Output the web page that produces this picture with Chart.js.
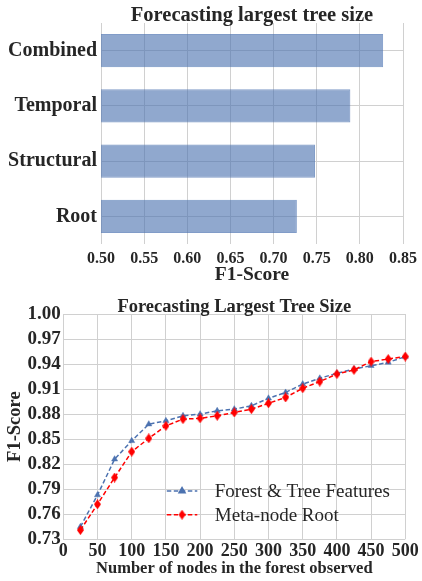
<!DOCTYPE html>
<html lang="en">
<head>
  <meta charset="UTF-8" />
  <title>Forecasting largest tree size</title>
  <script src="https://cdn.jsdelivr.net/npm/chart.js"></script>
  <style>
    html, body {
      margin: 0;
      padding: 0;
      background: #fff;
    }
    .box {
      position: relative;
      width: 422px;
    }
    #top { height: 290px; }
    #bottom { height: 291px; }
  </style>
</head>
<body>

  <!-- Bar chart: feature sets -->
  <div class="box" id="top"><canvas id="barChart"></canvas></div>

  <!-- Line chart: forest size -->
  <div class="box" id="bottom"><canvas id="lineChart"></canvas></div>

  <script>
    // Data for the bar chart
    const featureSets = ['Combined', 'Temporal', 'Structural', 'Root'];
    const featureScores = [0.827, 0.789, 0.748, 0.727];
    const barTicks = [0.50, 0.55, 0.60, 0.65, 0.70, 0.75, 0.80, 0.85];

    // Data for the line chart
    const nodesObserved = [25, 50, 75, 100, 125, 150, 175, 200, 225, 250,
                           275, 300, 325, 350, 375, 400, 425, 450, 475, 500];
    const forestTreeScores = [0.745, 0.783, 0.826, 0.848, 0.868, 0.872, 0.878, 0.880, 0.884, 0.886,
                              0.890, 0.899, 0.906, 0.916, 0.923, 0.929, 0.934, 0.938, 0.942, 0.949];
    const metaRootScores = [0.741, 0.772, 0.804, 0.835, 0.851, 0.866, 0.874, 0.875, 0.878, 0.882,
                            0.886, 0.893, 0.900, 0.911, 0.919, 0.928, 0.933, 0.943, 0.946, 0.949];
    const nodeTicks = [0, 50, 100, 150, 200, 250, 300, 350, 400, 450, 500];
    const scoreTicks = [0.73, 0.76, 0.79, 0.82, 0.85, 0.88, 0.91, 0.94, 0.97, 1.00];

    const TEXT = '#262626';
    const GRID = '#d0d0d0';
    const BLUE = '#4c72b0';
    const RED = '#ff0000';

    Chart.defaults.font.family = "'Liberation Serif', 'DejaVu Serif', serif";
    Chart.defaults.color = TEXT;

    // thin diamond marker (matplotlib 'd')
    const diamond = document.createElement('canvas');
    diamond.width = 7;
    diamond.height = 10;
    const dc = diamond.getContext('2d');
    dc.fillStyle = RED;
    dc.beginPath();
    dc.moveTo(3.5, 0);
    dc.lineTo(7, 5);
    dc.lineTo(3.5, 10);
    dc.lineTo(0, 5);
    dc.closePath();
    dc.fill();

    // title centred over the plot area
    const areaTitle = {
      id: 'areaTitle',
      afterDraw(chart, args, opts) {
        const { ctx, chartArea } = chart;
        ctx.save();
        ctx.fillStyle = TEXT;
        ctx.font = 'bold ' + opts.size + "px 'Liberation Serif', serif";
        ctx.textAlign = 'center';
        ctx.textBaseline = 'alphabetic';
        ctx.fillText(opts.text, (chartArea.left + chartArea.right) / 2, opts.baseline);
        ctx.restore();
      }
    };

    // legend inside the plot, lower right
    const innerLegend = {
      id: 'innerLegend',
      afterDraw(chart) {
        const { ctx, chartArea } = chart;
        const x0 = chartArea.left + 103.5;
        const x1 = x0 + 30.5;
        const rows = [chartArea.bottom - 48.3, chartArea.bottom - 24.6];
        chart.data.datasets.forEach((ds, i) => {
          const y = rows[i];
          ctx.save();
          ctx.strokeStyle = ds.borderColor;
          ctx.lineWidth = ds.borderWidth;
          ctx.setLineDash(ds.borderDash);
          ctx.beginPath();
          ctx.moveTo(x0, y);
          ctx.lineTo(x1, y);
          ctx.stroke();
          ctx.setLineDash([]);
          ctx.fillStyle = ds.backgroundColor;
          ctx.strokeStyle = ds.backgroundColor;
          Chart.helpers.drawPoint(ctx, {
            pointStyle: ds.pointStyle, radius: ds.pointRadius, rotation: 0, borderWidth: 0.5
          }, (x0 + x1) / 2, y);
          ctx.fillStyle = TEXT;
          ctx.font = "19px 'Liberation Serif', serif";
          ctx.textAlign = 'left';
          ctx.textBaseline = 'middle';
          ctx.fillText(ds.label, x1 + 17.5, y + 1);
          ctx.restore();
        });
      }
    };

    const fixTicks = list => scale => {
      scale.ticks = list.map(v => ({ value: v }));
    };

    // Bar chart
    new Chart(document.getElementById('barChart'), {
      type: 'bar',
      data: {
        labels: featureSets,
        datasets: [{
          data: featureScores,
          backgroundColor: 'rgba(76, 114, 176, 0.62)',
          borderColor: 'rgba(76, 114, 176, 0.7)',
          borderWidth: 1,
          barPercentage: 0.6,
          categoryPercentage: 1
        }]
      },
      options: {
        indexAxis: 'y',
        responsive: true,
        maintainAspectRatio: false,
        animation: false,
        layout: { padding: { top: 23, right: 17, left: 0, bottom: 0 } },
        plugins: {
          legend: { display: false },
          tooltip: { enabled: false },
          areaTitle: { text: 'Forecasting largest tree size', size: 20.5, baseline: 21 }
        },
        scales: {
          x: {
            type: 'linear',
            min: 0.5,
            max: 0.85,
            afterBuildTicks: fixTicks(barTicks),
            afterFit: s => { s.height = 46; },
            grid: { color: GRID, drawTicks: false },
            border: { display: false },
            ticks: {
              font: { size: 16, weight: 'bold' },
              padding: 5,
              autoSkip: false,
              maxRotation: 0,
              callback: v => v.toFixed(2)
            },
            title: {
              display: true,
              text: 'F1-Score',
              font: { size: 19.5, weight: 'bold' },
              padding: { top: 0, bottom: 3 }
            }
          },
          y: {
            afterFit: s => { s.width = 101; },
            grid: { color: GRID, drawTicks: false, offset: false },
            border: { display: false },
            ticks: { font: { size: 20, weight: 'bold' }, padding: 4 }
          }
        }
      },
      plugins: [areaTitle]
    });

    // Line chart
    new Chart(document.getElementById('lineChart'), {
      type: 'line',
      data: {
        datasets: [
          {
            label: 'Forest & Tree Features',
            data: nodesObserved.map((x, i) => ({ x: x, y: forestTreeScores[i] })),
            borderColor: BLUE,
            backgroundColor: BLUE,
            borderWidth: 1.5,
            borderDash: [4.5, 2.5],
            pointStyle: 'triangle',
            pointRadius: 3.5,
            pointBorderWidth: 0.5,
            order: 1,
            clip: 5
          },
          {
            label: 'Meta-node Root',
            data: nodesObserved.map((x, i) => ({ x: x, y: metaRootScores[i] })),
            borderColor: RED,
            backgroundColor: RED,
            borderWidth: 1.5,
            borderDash: [4.5, 2.5],
            pointStyle: diamond,
            pointRadius: 4,
            order: 0,
            clip: 5
          }
        ]
      },
      options: {
        responsive: true,
        maintainAspectRatio: false,
        animation: false,
        layout: { padding: { top: 24, right: 16.7, left: 0, bottom: 0 } },
        plugins: {
          legend: { display: false },
          tooltip: { enabled: false },
          areaTitle: { text: 'Forecasting Largest Tree Size', size: 18.5, baseline: 22 }
        },
        scales: {
          x: {
            type: 'linear',
            min: 0,
            max: 500,
            afterBuildTicks: fixTicks(nodeTicks),
            afterFit: s => { s.height = 41.7; },
            grid: { color: GRID, drawTicks: false },
            border: { display: false },
            ticks: {
              font: { size: 18, weight: 'bold' },
              padding: 1,
              autoSkip: false,
              maxRotation: 0
            },
            title: {
              display: true,
              text: 'Number of nodes in the forest observed',
              font: { size: 16.5, weight: 'bold' },
              padding: { top: 0, bottom: 2 }
            }
          },
          y: {
            min: 0.73,
            max: 1.0,
            afterBuildTicks: fixTicks(scoreTicks),
            afterFit: s => { s.width = 63.3; },
            grid: { color: GRID, drawTicks: false },
            border: { display: false },
            ticks: {
              font: { size: 19, weight: 'bold' },
              padding: 2.5,
              autoSkip: false,
              callback: v => v.toFixed(2)
            },
            title: {
              display: true,
              text: 'F1-Score',
              font: { size: 18.5, weight: 'bold' },
              padding: { top: 4, bottom: 0 }
            }
          }
        }
      },
      plugins: [areaTitle, innerLegend]
    });
  </script>

</body>
</html>
